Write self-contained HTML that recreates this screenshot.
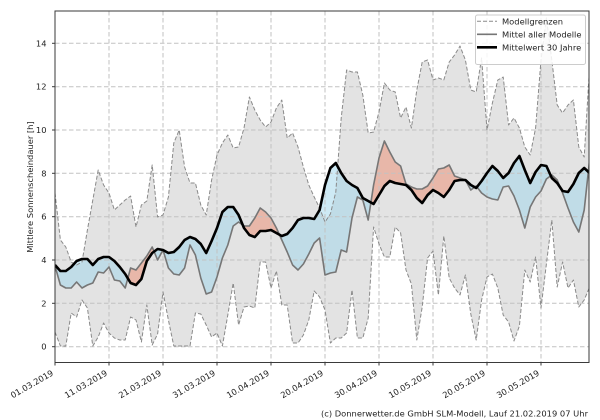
<!DOCTYPE html>
<html><head><meta charset="utf-8">
<style>
html,body{margin:0;padding:0;background:#fff;width:600px;height:420px;overflow:hidden}
svg{display:block}
text{font-family:"DejaVu Sans","Liberation Sans",sans-serif;font-size:8.33px;fill:#222}
</style></head>
<body>
<svg width="600" height="420" viewBox="0 0 600 420" xmlns="http://www.w3.org/2000/svg">
<defs>
<clipPath id="ax"><rect x="55" y="11" width="534" height="351.5"/></clipPath>
<clipPath id="below"><polygon points="55,265 60.4,271 65.8,271 71.2,267 76.6,261 82,259 87.4,259 92.8,265 98.2,259 103.6,257 109,257 114.4,261 119.8,267 125.2,274 130.6,283 136,285 141.4,279 146.8,261 152.2,253 157.6,249 163,250 168.4,253 173.8,252 179.2,247 184.6,240 190,237 195.4,239 200.8,244 206.2,253 211.6,241 217,228 222.4,212 227.8,207 233.2,207 238.6,215 244,228 249.4,235 254.8,237 260.2,231 265.6,231 271,230 276.4,233 281.8,236 287.2,234 292.6,228 298,220 303.4,218 308.8,218 314.2,219 319.6,210 325,185 330.4,168 335.8,163 341.2,173 346.6,181 352,185 357.4,188 362.8,198 368.2,201 373.6,204 379,195 384.4,186 389.8,181 395.2,183 400.6,184 406,185 411.4,190 416.8,198 422.2,203 427.6,195 433,190 438.4,193 443.8,197 449.2,190 454.6,181 460,180 465.4,180 470.8,185 476.2,188 481.6,181 487,173 492.4,166 497.8,171 503.2,178 508.6,173 514,163 519.4,156 524.8,170 530.2,183 535.6,172 541,165 546.4,166 551.8,178 557.2,183 562.6,191 568,192 573.4,184 578.8,173 584.2,168 589.6,173 589.6,420 55,420"/></clipPath>
<clipPath id="above"><polygon points="55,265 60.4,271 65.8,271 71.2,267 76.6,261 82,259 87.4,259 92.8,265 98.2,259 103.6,257 109,257 114.4,261 119.8,267 125.2,274 130.6,283 136,285 141.4,279 146.8,261 152.2,253 157.6,249 163,250 168.4,253 173.8,252 179.2,247 184.6,240 190,237 195.4,239 200.8,244 206.2,253 211.6,241 217,228 222.4,212 227.8,207 233.2,207 238.6,215 244,228 249.4,235 254.8,237 260.2,231 265.6,231 271,230 276.4,233 281.8,236 287.2,234 292.6,228 298,220 303.4,218 308.8,218 314.2,219 319.6,210 325,185 330.4,168 335.8,163 341.2,173 346.6,181 352,185 357.4,188 362.8,198 368.2,201 373.6,204 379,195 384.4,186 389.8,181 395.2,183 400.6,184 406,185 411.4,190 416.8,198 422.2,203 427.6,195 433,190 438.4,193 443.8,197 449.2,190 454.6,181 460,180 465.4,180 470.8,185 476.2,188 481.6,181 487,173 492.4,166 497.8,171 503.2,178 508.6,173 514,163 519.4,156 524.8,170 530.2,183 535.6,172 541,165 546.4,166 551.8,178 557.2,183 562.6,191 568,192 573.4,184 578.8,173 584.2,168 589.6,173 589.6,0 55,0"/></clipPath>
</defs>

<g clip-path="url(#ax)">
<!-- model range fill -->
<polygon fill="#e3e3e3" points="55,193 60.4,240 65.8,247 71.2,262 76.6,265 82,262 87.4,230 92.8,200 98.2,170 103.6,185 109,193 114.4,210 119.8,205 125.2,200 130.6,196 136,227 141.4,205 146.8,201 152.2,165 157.6,217 163,215 168.4,197 173.8,143 179.2,130 184.6,167 190,183 195.4,183 200.8,205 206.2,215 211.6,180 217,155 222.4,143 227.8,135 233.2,148 238.6,147 244,128 249.4,97 254.8,110 260.2,120 265.6,127 271,122 276.4,108 281.8,100 287.2,138 292.6,133 298,147 303.4,167 308.8,185 314.2,197 319.6,208 325,222 330.4,214 335.8,192 341.2,118 346.6,70 352,72 357.4,72 362.8,95 368.2,133 373.6,132 379,112 384.4,83 389.8,90 395.2,92 400.6,118 406,107 411.4,128 416.8,90 422.2,62 427.6,60 433,80 438.4,78 443.8,80 449.2,62 454.6,55 460,46 465.4,60 470.8,90 476.2,92 481.6,58 487,130 492.4,103 497.8,80 503.2,77 508.6,125 514,118 519.4,128 524.8,147 530.2,155 535.6,128 541,60 546.4,18 551.8,60 557.2,105 562.6,113 568,105 573.4,100 578.8,147 584.2,157 589.6,67 589.6,287 584.2,300 578.8,307 573.4,280 568,288 562.6,262 557.2,287 551.8,220 546.4,264 541,308 535.6,257 530.2,282 524.8,270 519.4,326 514,341 508.6,322 503.2,315 497.8,288 492.4,274 487,277 481.6,300 476.2,340 470.8,314 465.4,275 460,295 454.6,288 449.2,278 443.8,236 438.4,295 433,251 427.6,258 422.2,307 416.8,340 411.4,284 406,270 400.6,233 395.2,227 389.8,257 384.4,257 379,244 373.6,227 368.2,318 362.8,338 357.4,338 352,290 346.6,333 341.2,338 335.8,338 330.4,343 325,310 319.6,297 314.2,291 308.8,320 303.4,335 298,343 292.6,343 287.2,305 281.8,305 276.4,271 271,288 265.6,262 260.2,262 254.8,308 249.4,306 244,307 238.6,325 233.2,283 227.8,315 222.4,346 217,333 211.6,337 206.2,325 200.8,314 195.4,313 190,346 184.6,346 179.2,346 173.8,346 168.4,320 163,292 157.6,334 152.2,345 146.8,305 141.4,342 136,320 130.6,317 125.2,340 119.8,340 114.4,338 109,333 103.6,323 98.2,337 92.8,346 87.4,308 82,300 76.6,317 71.2,313 65.8,346 60.4,346 55,332"/>

<!-- difference fills -->
<polygon clip-path="url(#below)" fill="rgb(158,214,235)" fill-opacity="0.5" points="55,266 60.4,285 65.8,288 71.2,288 76.6,282 82,288 87.4,285 92.8,283 98.2,272 103.6,273 109,267 114.4,280 119.8,281 125.2,288 130.6,268 136,270 141.4,263 146.8,256 152.2,247 157.6,260 163,250 168.4,268 173.8,274 179.2,275 184.6,268 190,245 195.4,255 200.8,278 206.2,294 211.6,292 217,277 222.4,258 227.8,245 233.2,226 238.6,222 244,226 249.4,226 254.8,218 260.2,208 265.6,212 271,218 276.4,228 281.8,240 287.2,252 292.6,265 298,270 303.4,264 308.8,254 314.2,243 319.6,238 325,275 330.4,273 335.8,272 341.2,250 346.6,252 352,218 357.4,197 362.8,200 368.2,220 373.6,185 379,158 384.4,141 389.8,152 395.2,162 400.6,166 406,184 411.4,187 416.8,189 422.2,189 427.6,186 433,178 438.4,169 443.8,168 449.2,165 454.6,176 460,178 465.4,180 470.8,190 476.2,186 481.6,193 487,197 492.4,199 497.8,200 503.2,187 508.6,186 514,196 519.4,210 524.8,228 530.2,207 535.6,197 541,191 546.4,179 551.8,175 557.2,180 562.6,193 568,208 573.4,222 578.8,232 584.2,210 589.6,160 589.6,173 584.2,168 578.8,173 573.4,184 568,192 562.6,191 557.2,183 551.8,178 546.4,166 541,165 535.6,172 530.2,183 524.8,170 519.4,156 514,163 508.6,173 503.2,178 497.8,171 492.4,166 487,173 481.6,181 476.2,188 470.8,185 465.4,180 460,180 454.6,181 449.2,190 443.8,197 438.4,193 433,190 427.6,195 422.2,203 416.8,198 411.4,190 406,185 400.6,184 395.2,183 389.8,181 384.4,186 379,195 373.6,204 368.2,201 362.8,198 357.4,188 352,185 346.6,181 341.2,173 335.8,163 330.4,168 325,185 319.6,210 314.2,219 308.8,218 303.4,218 298,220 292.6,228 287.2,234 281.8,236 276.4,233 271,230 265.6,231 260.2,231 254.8,237 249.4,235 244,228 238.6,215 233.2,207 227.8,207 222.4,212 217,228 211.6,241 206.2,253 200.8,244 195.4,239 190,237 184.6,240 179.2,247 173.8,252 168.4,253 163,250 157.6,249 152.2,253 146.8,261 141.4,279 136,285 130.6,283 125.2,274 119.8,267 114.4,261 109,257 103.6,257 98.2,259 92.8,265 87.4,259 82,259 76.6,261 71.2,267 65.8,271 60.4,271 55,265"/>
<polygon clip-path="url(#above)" fill="rgb(238,140,112)" fill-opacity="0.5" points="55,266 60.4,285 65.8,288 71.2,288 76.6,282 82,288 87.4,285 92.8,283 98.2,272 103.6,273 109,267 114.4,280 119.8,281 125.2,288 130.6,268 136,270 141.4,263 146.8,256 152.2,247 157.6,260 163,250 168.4,268 173.8,274 179.2,275 184.6,268 190,245 195.4,255 200.8,278 206.2,294 211.6,292 217,277 222.4,258 227.8,245 233.2,226 238.6,222 244,226 249.4,226 254.8,218 260.2,208 265.6,212 271,218 276.4,228 281.8,240 287.2,252 292.6,265 298,270 303.4,264 308.8,254 314.2,243 319.6,238 325,275 330.4,273 335.8,272 341.2,250 346.6,252 352,218 357.4,197 362.8,200 368.2,220 373.6,185 379,158 384.4,141 389.8,152 395.2,162 400.6,166 406,184 411.4,187 416.8,189 422.2,189 427.6,186 433,178 438.4,169 443.8,168 449.2,165 454.6,176 460,178 465.4,180 470.8,190 476.2,186 481.6,193 487,197 492.4,199 497.8,200 503.2,187 508.6,186 514,196 519.4,210 524.8,228 530.2,207 535.6,197 541,191 546.4,179 551.8,175 557.2,180 562.6,193 568,208 573.4,222 578.8,232 584.2,210 589.6,160 589.6,173 584.2,168 578.8,173 573.4,184 568,192 562.6,191 557.2,183 551.8,178 546.4,166 541,165 535.6,172 530.2,183 524.8,170 519.4,156 514,163 508.6,173 503.2,178 497.8,171 492.4,166 487,173 481.6,181 476.2,188 470.8,185 465.4,180 460,180 454.6,181 449.2,190 443.8,197 438.4,193 433,190 427.6,195 422.2,203 416.8,198 411.4,190 406,185 400.6,184 395.2,183 389.8,181 384.4,186 379,195 373.6,204 368.2,201 362.8,198 357.4,188 352,185 346.6,181 341.2,173 335.8,163 330.4,168 325,185 319.6,210 314.2,219 308.8,218 303.4,218 298,220 292.6,228 287.2,234 281.8,236 276.4,233 271,230 265.6,231 260.2,231 254.8,237 249.4,235 244,228 238.6,215 233.2,207 227.8,207 222.4,212 217,228 211.6,241 206.2,253 200.8,244 195.4,239 190,237 184.6,240 179.2,247 173.8,252 168.4,253 163,250 157.6,249 152.2,253 146.8,261 141.4,279 136,285 130.6,283 125.2,274 119.8,267 114.4,261 109,257 103.6,257 98.2,259 92.8,265 87.4,259 82,259 76.6,261 71.2,267 65.8,271 60.4,271 55,265"/>

<!-- grid -->
<g stroke="#c2c2c2" stroke-width="1" stroke-dasharray="4.5,2.5" fill="none">
<line x1="55" y1="346.7" x2="589" y2="346.7"/>
<line x1="55" y1="303.3" x2="589" y2="303.3"/>
<line x1="55" y1="260" x2="589" y2="260"/>
<line x1="55" y1="216.7" x2="589" y2="216.7"/>
<line x1="55" y1="173.3" x2="589" y2="173.3"/>
<line x1="55" y1="130" x2="589" y2="130"/>
<line x1="55" y1="86.7" x2="589" y2="86.7"/>
<line x1="55" y1="43.3" x2="589" y2="43.3"/>
<line x1="109" y1="11" x2="109" y2="362.5"/>
<line x1="163" y1="11" x2="163" y2="362.5"/>
<line x1="217" y1="11" x2="217" y2="362.5"/>
<line x1="271" y1="11" x2="271" y2="362.5"/>
<line x1="325" y1="11" x2="325" y2="362.5"/>
<line x1="379" y1="11" x2="379" y2="362.5"/>
<line x1="433" y1="11" x2="433" y2="362.5"/>
<line x1="487" y1="11" x2="487" y2="362.5"/>
<line x1="541" y1="11" x2="541" y2="362.5"/>
</g>

<!-- model bounds -->
<g fill="none" stroke="#8a8a8a" stroke-width="1" stroke-dasharray="4,2" stroke-linejoin="round">
<polyline points="55,193 60.4,240 65.8,247 71.2,262 76.6,265 82,262 87.4,230 92.8,200 98.2,170 103.6,185 109,193 114.4,210 119.8,205 125.2,200 130.6,196 136,227 141.4,205 146.8,201 152.2,165 157.6,217 163,215 168.4,197 173.8,143 179.2,130 184.6,167 190,183 195.4,183 200.8,205 206.2,215 211.6,180 217,155 222.4,143 227.8,135 233.2,148 238.6,147 244,128 249.4,97 254.8,110 260.2,120 265.6,127 271,122 276.4,108 281.8,100 287.2,138 292.6,133 298,147 303.4,167 308.8,185 314.2,197 319.6,208 325,222 330.4,214 335.8,192 341.2,118 346.6,70 352,72 357.4,72 362.8,95 368.2,133 373.6,132 379,112 384.4,83 389.8,90 395.2,92 400.6,118 406,107 411.4,128 416.8,90 422.2,62 427.6,60 433,80 438.4,78 443.8,80 449.2,62 454.6,55 460,46 465.4,60 470.8,90 476.2,92 481.6,58 487,130 492.4,103 497.8,80 503.2,77 508.6,125 514,118 519.4,128 524.8,147 530.2,155 535.6,128 541,60 546.4,18 551.8,60 557.2,105 562.6,113 568,105 573.4,100 578.8,147 584.2,157 589.6,67"/>
<polyline points="55,332 60.4,346 65.8,346 71.2,313 76.6,317 82,300 87.4,308 92.8,346 98.2,337 103.6,323 109,333 114.4,338 119.8,340 125.2,340 130.6,317 136,320 141.4,342 146.8,305 152.2,345 157.6,334 163,292 168.4,320 173.8,346 179.2,346 184.6,346 190,346 195.4,313 200.8,314 206.2,325 211.6,337 217,333 222.4,346 227.8,315 233.2,283 238.6,325 244,307 249.4,306 254.8,308 260.2,262 265.6,262 271,288 276.4,271 281.8,305 287.2,305 292.6,343 298,343 303.4,335 308.8,320 314.2,291 319.6,297 325,310 330.4,343 335.8,338 341.2,338 346.6,333 352,290 357.4,338 362.8,338 368.2,318 373.6,227 379,244 384.4,257 389.8,257 395.2,227 400.6,233 406,270 411.4,284 416.8,340 422.2,307 427.6,258 433,251 438.4,295 443.8,236 449.2,278 454.6,288 460,295 465.4,275 470.8,314 476.2,340 481.6,300 487,277 492.4,274 497.8,288 503.2,315 508.6,322 514,341 519.4,326 524.8,270 530.2,282 535.6,257 541,308 546.4,264 551.8,220 557.2,287 562.6,262 568,288 573.4,280 578.8,307 584.2,300 589.6,287"/>
</g>

<!-- model mean -->
<polyline fill="none" stroke="#767676" stroke-width="1.6" stroke-linejoin="round" points="55,266 60.4,285 65.8,288 71.2,288 76.6,282 82,288 87.4,285 92.8,283 98.2,272 103.6,273 109,267 114.4,280 119.8,281 125.2,288 130.6,268 136,270 141.4,263 146.8,256 152.2,247 157.6,260 163,250 168.4,268 173.8,274 179.2,275 184.6,268 190,245 195.4,255 200.8,278 206.2,294 211.6,292 217,277 222.4,258 227.8,245 233.2,226 238.6,222 244,226 249.4,226 254.8,218 260.2,208 265.6,212 271,218 276.4,228 281.8,240 287.2,252 292.6,265 298,270 303.4,264 308.8,254 314.2,243 319.6,238 325,275 330.4,273 335.8,272 341.2,250 346.6,252 352,218 357.4,197 362.8,200 368.2,220 373.6,185 379,158 384.4,141 389.8,152 395.2,162 400.6,166 406,184 411.4,187 416.8,189 422.2,189 427.6,186 433,178 438.4,169 443.8,168 449.2,165 454.6,176 460,178 465.4,180 470.8,190 476.2,186 481.6,193 487,197 492.4,199 497.8,200 503.2,187 508.6,186 514,196 519.4,210 524.8,228 530.2,207 535.6,197 541,191 546.4,179 551.8,175 557.2,180 562.6,193 568,208 573.4,222 578.8,232 584.2,210 589.6,160"/>

<!-- 30-year mean -->
<polyline fill="none" stroke="#000" stroke-width="2.6" stroke-linejoin="round" points="55,265 60.4,271 65.8,271 71.2,267 76.6,261 82,259 87.4,259 92.8,265 98.2,259 103.6,257 109,257 114.4,261 119.8,267 125.2,274 130.6,283 136,285 141.4,279 146.8,261 152.2,253 157.6,249 163,250 168.4,253 173.8,252 179.2,247 184.6,240 190,237 195.4,239 200.8,244 206.2,253 211.6,241 217,228 222.4,212 227.8,207 233.2,207 238.6,215 244,228 249.4,235 254.8,237 260.2,231 265.6,231 271,230 276.4,233 281.8,236 287.2,234 292.6,228 298,220 303.4,218 308.8,218 314.2,219 319.6,210 325,185 330.4,168 335.8,163 341.2,173 346.6,181 352,185 357.4,188 362.8,198 368.2,201 373.6,204 379,195 384.4,186 389.8,181 395.2,183 400.6,184 406,185 411.4,190 416.8,198 422.2,203 427.6,195 433,190 438.4,193 443.8,197 449.2,190 454.6,181 460,180 465.4,180 470.8,185 476.2,188 481.6,181 487,173 492.4,166 497.8,171 503.2,178 508.6,173 514,163 519.4,156 524.8,170 530.2,183 535.6,172 541,165 546.4,166 551.8,178 557.2,183 562.6,191 568,192 573.4,184 578.8,173 584.2,168 589.6,173"/>
</g>

<!-- axes frame -->
<rect x="55" y="11" width="534" height="351.5" fill="none" stroke="#3a3a3a" stroke-width="1"/>

<!-- ticks -->
<g stroke="#3a3a3a" stroke-width="1">
<line x1="52" y1="346.7" x2="55" y2="346.7"/>
<line x1="52" y1="303.3" x2="55" y2="303.3"/>
<line x1="52" y1="260" x2="55" y2="260"/>
<line x1="52" y1="216.7" x2="55" y2="216.7"/>
<line x1="52" y1="173.3" x2="55" y2="173.3"/>
<line x1="52" y1="130" x2="55" y2="130"/>
<line x1="52" y1="86.7" x2="55" y2="86.7"/>
<line x1="52" y1="43.3" x2="55" y2="43.3"/>
<line x1="55" y1="362.5" x2="55" y2="365.5"/>
<line x1="109" y1="362.5" x2="109" y2="365.5"/>
<line x1="163" y1="362.5" x2="163" y2="365.5"/>
<line x1="217" y1="362.5" x2="217" y2="365.5"/>
<line x1="271" y1="362.5" x2="271" y2="365.5"/>
<line x1="325" y1="362.5" x2="325" y2="365.5"/>
<line x1="379" y1="362.5" x2="379" y2="365.5"/>
<line x1="433" y1="362.5" x2="433" y2="365.5"/>
<line x1="487" y1="362.5" x2="487" y2="365.5"/>
<line x1="541" y1="362.5" x2="541" y2="365.5"/>
</g>

<!-- y tick labels -->
<g text-anchor="end">
<text x="46.5" y="349.7">0</text>
<text x="46.5" y="306.3">2</text>
<text x="46.5" y="263">4</text>
<text x="46.5" y="219.7">6</text>
<text x="46.5" y="176.3">8</text>
<text x="46.5" y="133">10</text>
<text x="46.5" y="89.7">12</text>
<text x="46.5" y="46.3">14</text>
</g>

<!-- x tick labels -->
<g text-anchor="end">
<text x="54" y="374.7" transform="rotate(-30 54 374.7)">01.03.2019</text>
<text x="108" y="374.7" transform="rotate(-30 108 374.7)">11.03.2019</text>
<text x="162" y="374.7" transform="rotate(-30 162 374.7)">21.03.2019</text>
<text x="216" y="374.7" transform="rotate(-30 216 374.7)">31.03.2019</text>
<text x="270" y="374.7" transform="rotate(-30 270 374.7)">10.04.2019</text>
<text x="324" y="374.7" transform="rotate(-30 324 374.7)">20.04.2019</text>
<text x="378" y="374.7" transform="rotate(-30 378 374.7)">30.04.2019</text>
<text x="432" y="374.7" transform="rotate(-30 432 374.7)">10.05.2019</text>
<text x="486" y="374.7" transform="rotate(-30 486 374.7)">20.05.2019</text>
<text x="540" y="374.7" transform="rotate(-30 540 374.7)">30.05.2019</text>
</g>

<!-- y axis label -->
<text x="0" y="0" text-anchor="middle" transform="translate(33 187) rotate(-90)">Mittlere Sonnenscheindauer [h]</text>

<!-- legend -->
<rect x="475.5" y="15" width="110" height="49.5" rx="2" ry="2" fill="#fff" fill-opacity="0.85" stroke="#cccccc" stroke-width="1"/>
<line x1="477" y1="21.3" x2="497" y2="21.3" stroke="#8a8a8a" stroke-width="1" stroke-dasharray="4,2"/>
<line x1="477" y1="34.3" x2="497" y2="34.3" stroke="#767676" stroke-width="1.6"/>
<line x1="477" y1="47.3" x2="497" y2="47.3" stroke="#000" stroke-width="2.6"/>
<text x="502" y="24.3">Modellgrenzen</text>
<text x="502" y="37.3">Mittel aller Modelle</text>
<text x="502" y="50.3">Mittelwert 30 Jahre</text>

<!-- footer -->
<text x="321" y="416.5" textLength="267" lengthAdjust="spacingAndGlyphs">(c) Donnerwetter.de GmbH SLM-Modell, Lauf 21.02.2019 07 Uhr</text>
</svg>
</body></html>
